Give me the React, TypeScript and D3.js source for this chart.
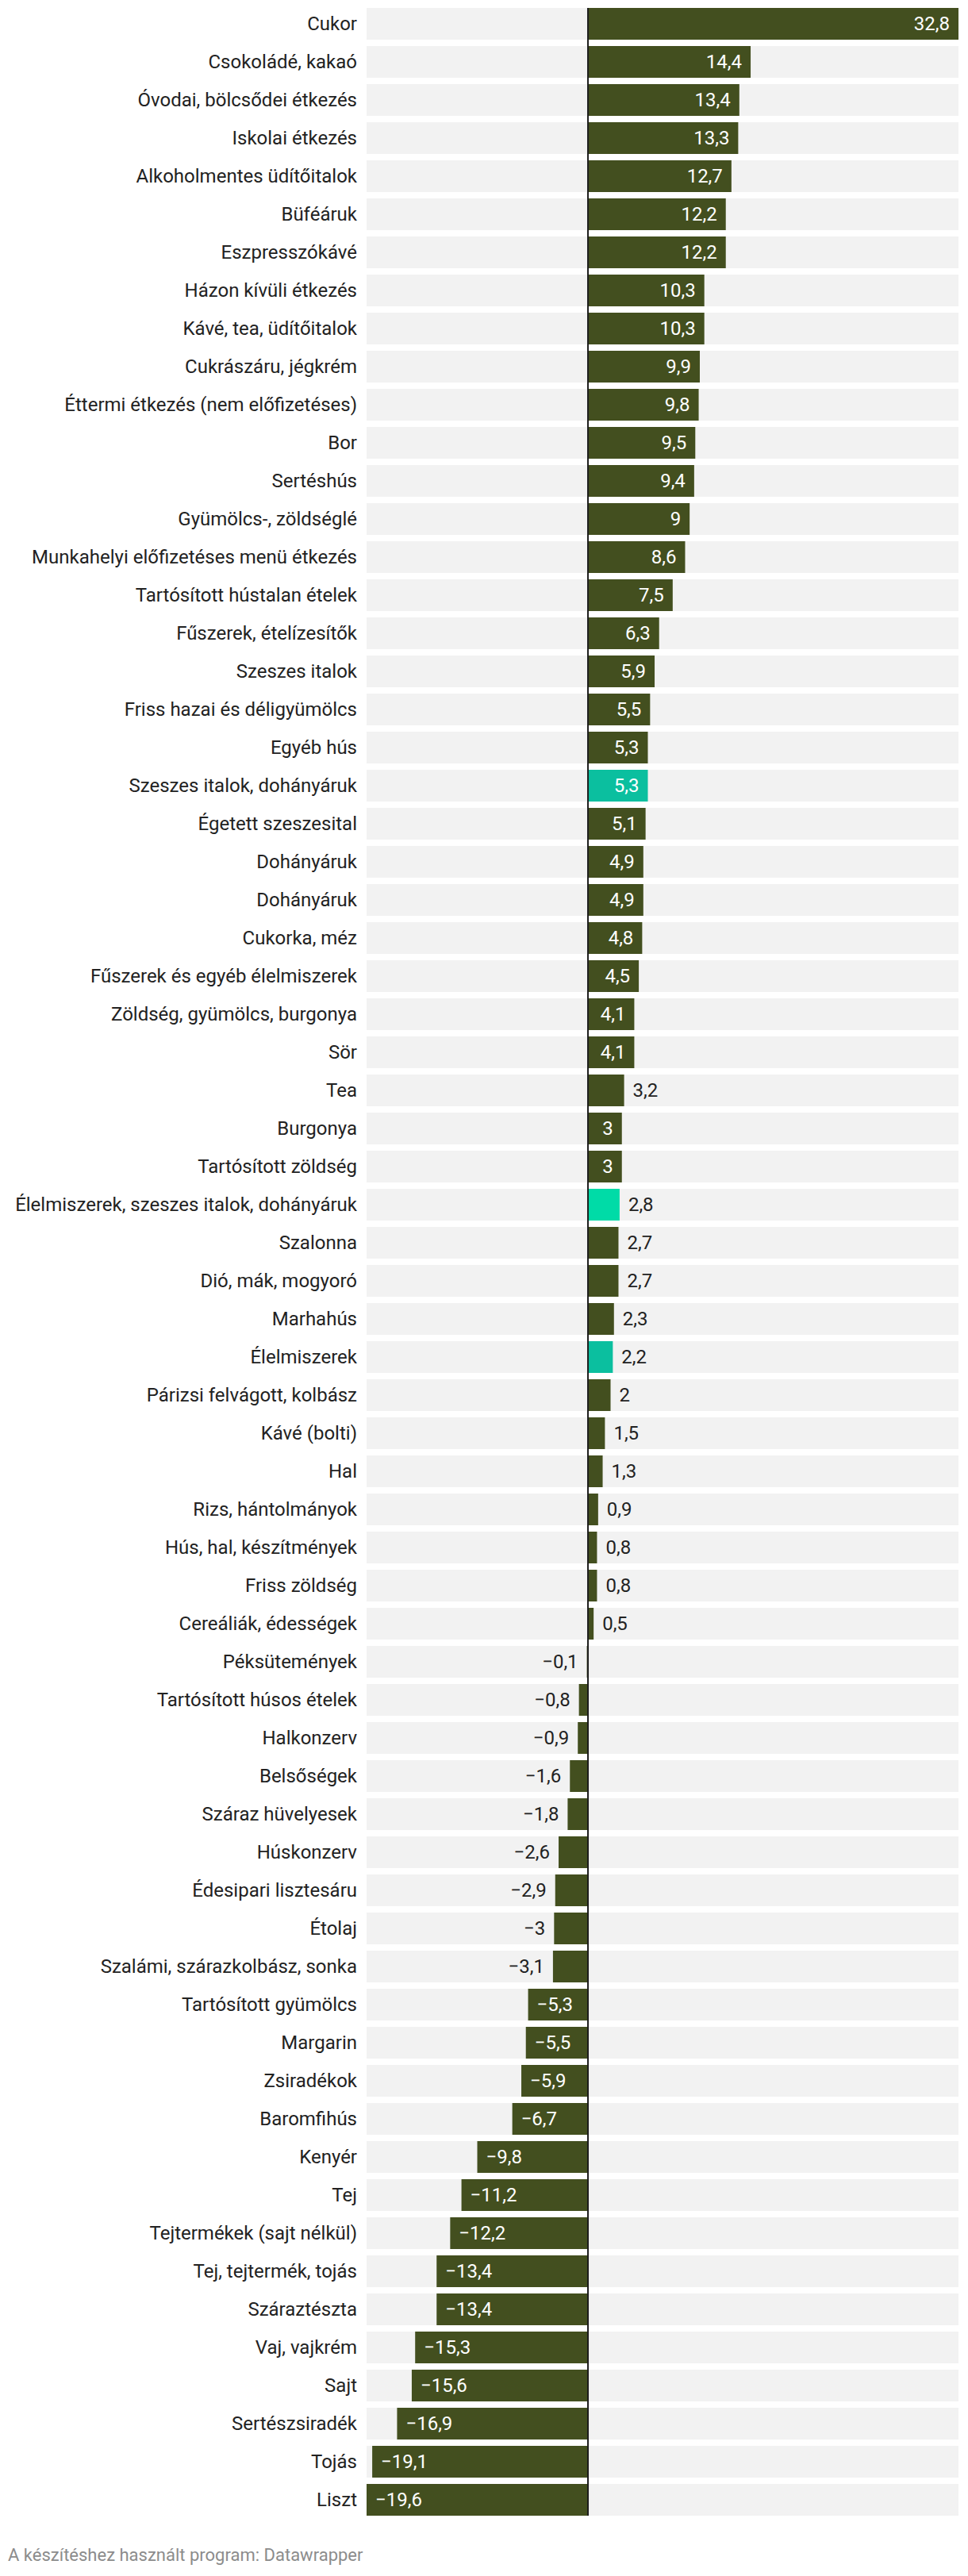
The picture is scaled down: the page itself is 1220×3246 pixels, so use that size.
import React from "react";
import * as d3 from "d3";

const categories: string[] = [
  "Cukor", "Csokoládé, kakaó", "Óvodai, bölcsődei étkezés", "Iskolai étkezés",
  "Alkoholmentes üdítőitalok", "Büféáruk", "Eszpresszókávé", "Házon kívüli étkezés",
  "Kávé, tea, üdítőitalok", "Cukrászáru, jégkrém", "Éttermi étkezés (nem előfizetéses)", "Bor",
  "Sertéshús", "Gyümölcs-, zöldséglé", "Munkahelyi előfizetéses menü étkezés", "Tartósított hústalan ételek",
  "Fűszerek, ételízesítők", "Szeszes italok", "Friss hazai és déligyümölcs", "Egyéb hús",
  "Szeszes italok, dohányáruk", "Égetett szeszesital", "Dohányáruk", "Dohányáruk",
  "Cukorka, méz", "Fűszerek és egyéb élelmiszerek", "Zöldség, gyümölcs, burgonya", "Sör",
  "Tea", "Burgonya", "Tartósított zöldség", "Élelmiszerek, szeszes italok, dohányáruk",
  "Szalonna", "Dió, mák, mogyoró", "Marhahús", "Élelmiszerek",
  "Párizsi felvágott, kolbász", "Kávé (bolti)", "Hal", "Rizs, hántolmányok",
  "Hús, hal, készítmények", "Friss zöldség", "Cereáliák, édességek", "Péksütemények",
  "Tartósított húsos ételek", "Halkonzerv", "Belsőségek", "Száraz hüvelyesek",
  "Húskonzerv", "Édesipari lisztesáru", "Étolaj", "Szalámi, szárazkolbász, sonka",
  "Tartósított gyümölcs", "Margarin", "Zsiradékok", "Baromfihús",
  "Kenyér", "Tej", "Tejtermékek (sajt nélkül)", "Tej, tejtermék, tojás",
  "Száraztészta", "Vaj, vajkrém", "Sajt", "Sertészsiradék",
  "Tojás", "Liszt",
];

const values: number[] = [
  32.8, 14.4, 13.4, 13.3,
  12.7, 12.2, 12.2, 10.3,
  10.3, 9.9, 9.8, 9.5,
  9.4, 9, 8.6, 7.5,
  6.3, 5.9, 5.5, 5.3,
  5.3, 5.1, 4.9, 4.9,
  4.8, 4.5, 4.1, 4.1,
  3.2, 3, 3, 2.8,
  2.7, 2.7, 2.3, 2.2,
  2, 1.5, 1.3, 0.9,
  0.8, 0.8, 0.5, -0.1,
  -0.8, -0.9, -1.6, -1.8,
  -2.6, -2.9, -3, -3.1,
  -5.3, -5.5, -5.9, -6.7,
  -9.8, -11.2, -12.2, -13.4,
  -13.4, -15.3, -15.6, -16.9,
  -19.1, -19.6,
];

// highlighted categories (group totals)
const highlightA: string[] = ["Szeszes italok, dohányáruk", "Élelmiszerek"];
const highlightB: string[] = ["Élelmiszerek, szeszes italok, dohányáruk"];

const footer = "A készítéshez használt program: Datawrapper";

const W = 1220;
const H = 3246;
const FONT = "Roboto, 'Noto Sans', sans-serif";
const FS = 24;
const FOOT_FS = 22;

let ctx: CanvasRenderingContext2D | null = null;
function measure(t: string, fs: number): number {
  if (typeof document === "undefined") return t.length * fs * 0.55;
  if (!ctx) ctx = document.createElement("canvas").getContext("2d");
  if (!ctx) return t.length * fs * 0.55;
  ctx.font = `${fs}px Roboto`;
  return ctx.measureText(t).width;
}

function fmt(v: number): string {
  const s = String(Math.abs(v)).replace(".", ",");
  return v < 0 ? "\u2212" + s : s;
}

export default function App() {
  const x = d3.scaleLinear().domain([d3.min(values)!, d3.max(values)!]).range([462, 1208]);
  const y = d3
    .scaleBand<number>()
    .domain(d3.range(categories.length))
    .range([10, 3170])
    .paddingInner(1 / 6)
    .paddingOuter(0);
  const bw = y.bandwidth();
  const x0 = x(0);
  const pad = 11;

  return (
    <div style={{ position: "absolute", left: 0, top: 0, width: W, height: H, background: "#fff" }}>
      <svg width={W} height={H} style={{ display: "block", fontFamily: FONT }}>
        {categories.map((c, i) => {
          const v = values[i];
          const yy = y(i)!;
          const xa = x(Math.min(0, v));
          const xb = x(Math.max(0, v));
          const barW = xb - xa;
          const label = fmt(v);
          const tw = measure(label, FS);
          const inside = tw + 2 * pad <= barW;
          let fill = "#434f1f";
          if (highlightA.includes(c)) fill = "#0bbf9f";
          if (highlightB.includes(c)) fill = "#00dba7";
          let lx: number, anchor: string, lcol: string;
          if (v >= 0) {
            if (inside) { lx = xb - pad; anchor = "end"; lcol = "#ffffff"; }
            else { lx = xb + pad; anchor = "start"; lcol = "#222222"; }
          } else {
            if (inside) { lx = xa + pad; anchor = "start"; lcol = "#ffffff"; }
            else { lx = xa - pad; anchor = "end"; lcol = "#222222"; }
          }
          return (
            <g key={i}>
              <rect x={x.range()[0]} y={yy} width={x.range()[1] - x.range()[0]} height={bw} fill="#f2f2f2" />
              <rect x={xa} y={yy} width={Math.max(barW, 0.5)} height={bw} fill={fill} />
              <text x={450} y={yy + bw / 2} dy="0.35em" textAnchor="end" fontSize={FS} fill="#222222">
                {c}
              </text>
              <text x={lx} y={yy + bw / 2} dy="0.35em" textAnchor={anchor} fontSize={FS} fill={lcol}>
                {label}
              </text>
            </g>
          );
        })}
        <line x1={x0} x2={x0} y1={10} y2={3170} stroke="#1d1d1d" strokeWidth={2} />
        <text x={10} y={3227} fontSize={FOOT_FS} fill="#8c8c8c">
          {footer}
        </text>
      </svg>
    </div>
  );
}
